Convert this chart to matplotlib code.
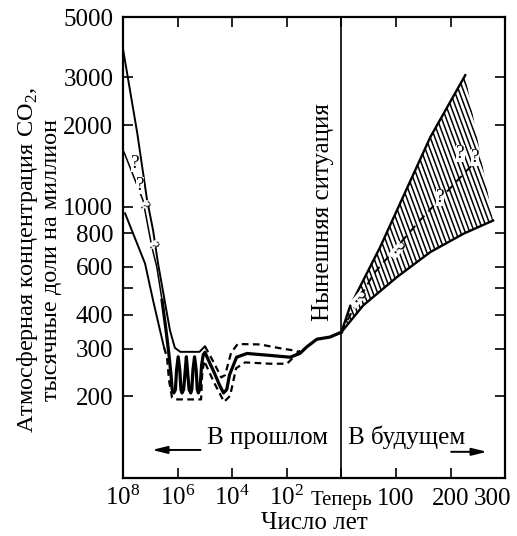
import matplotlib
matplotlib.use('Agg')
import matplotlib.pyplot as plt
from matplotlib import collections as mc
import numpy as np

plt.rcParams['font.family'] = ['Liberation Serif', 'DejaVu Serif']
plt.rcParams['mathtext.fontset'] = 'custom'
plt.rcParams['mathtext.rm'] = 'Liberation Serif'

# x position: 0..4 -> 10^8, 10^6, 10^4, 10^2 years ago, now; 4..7 -> 0..300 years ahead
x_ticks = [0, 1, 2, 3, 4, 5, 6, 7]
x_labels = [r'$\mathregular{10^8}$', r'$\mathregular{10^6}$', r'$\mathregular{10^4}$',
            r'$\mathregular{10^2}$', 'Теперь', '100', '200', '300']
y_ticks = [200, 300, 400, 500, 600, 800, 1000, 2000, 3000, 5000]
y_labels = ['200', '300', '400', '', '600', '800', '1000', '2000', '3000', '5000']

# past: upper bound (solid, then dashed)
up_x = [0, 0.26, 0.44, 0.55, 0.64, 0.86, 0.95, 1.05, 1.40, 1.50]
up_y = [3810, 1870, 1060, 820, 620, 350, 302, 292, 292, 306]
up_dash_x = [1.50, 1.67, 1.80, 1.87, 1.98, 2.10, 2.51, 2.88, 3.15, 3.24]
up_dash_y = [306, 265, 235, 240, 290, 312, 311, 301, 295, 291]

# past: lower bound (solid, then dashed)
lo_x = [0.037, 0.183, 0.403, 0.55, 0.678, 0.751]
lo_y = [946, 798, 618, 452, 350, 303]
lo_dash_x = [0.751, 0.806, 0.843, 0.898, 0.953, 1.43, 1.448, 1.484, 1.668, 1.851,
             1.961, 2.071, 2.236, 2.694, 3.005, 3.189, 3.28]
lo_dash_y = [303, 278, 229, 198, 195, 195, 239, 271, 225, 191,
             201, 254, 267, 264, 264, 288, 299]

# past: central estimate
mid_x = [0.018, 0.366, 0.53, 0.62, 0.715, 0.788, 0.843, 0.88, 0.90, 0.93, 0.96, 0.98,
         1.01, 1.04, 1.06, 1.08, 1.11, 1.14, 1.16, 1.18, 1.21, 1.24, 1.26, 1.28, 1.31,
         1.34, 1.36, 1.38, 1.41, 1.44, 1.47, 1.50, 1.58, 1.67, 1.76, 1.84, 1.90, 1.95,
         2.08, 2.27, 2.63, 3.06, 3.24, 3.37, 3.55, 3.79, 4.0]
mid_y = [1590, 1056, 708, 598, 452, 350, 283, 239, 212, 206, 212, 250,
         280, 250, 212, 206, 212, 250, 280, 250, 212, 206, 212, 250, 280,
         250, 212, 206, 214, 262, 285, 291, 268, 245, 222, 206, 212, 240,
         279, 288, 284, 279, 288, 305, 325, 331, 345]

# future: hatched band and central dashed line
fut_hi_x = [4.0, 4.16, 4.71, 5.63, 6.27]
fut_hi_y = [345, 430, 710, 1807, 3055]
fut_lo_x = [4.0, 4.40, 5.02, 5.63, 6.24, 6.78]
fut_lo_y = [345, 433, 551, 681, 796, 890]
fut_mid_x = [4.0, 4.22, 4.59, 5.44, 6.30, 6.49]
fut_mid_y = [345, 420, 566, 891, 1362, 1483]

fig = plt.figure(figsize=(5.17, 5.36), dpi=100)
ax = fig.add_axes([0.238, 0.108, 0.739, 0.860])
ax.set_yscale('log')
ax.set_xlim(0, 7)
ax.set_ylim(100, 5000)

# past curves
ax.plot(up_x, up_y, color='black', lw=1.4)
ax.plot(up_dash_x, up_dash_y, color='black', lw=1.6, ls=(0, (3, 2)))
ax.plot(lo_x, lo_y, color='black', lw=1.4)
ax.plot(lo_dash_x, lo_dash_y, color='black', lw=1.6, ls=(0, (3, 2)))
ax.plot(mid_x[:5], mid_y[:5], color='black', lw=1.1)
ax.plot(mid_x[4:], mid_y[4:], color='black', lw=2.3)
for qx, qy, rot, fs in [(0.22, 1446, 0, 14), (0.31, 1200, 0, 14),
                        (0.37, 1010, -60, 10), (0.53, 720, -60, 10)]:
    ax.text(qx, qy, '?', ha='center', va='center', fontsize=fs, rotation=rot,
            bbox=dict(facecolor='white', edgecolor='none', pad=0))

# future band
poly_x = fut_hi_x + fut_lo_x[::-1]
poly_y = fut_hi_y + fut_lo_y[::-1]
band = ax.fill(poly_x, poly_y, facecolor='none', edgecolor='none')[0]
starts = np.arange(-0.5, 1.0, 0.012)
segs = [[(s, 1), (s + 0.445, 0)] for s in starts]
hatch = mc.LineCollection(segs, colors='black', linewidths=1.1, transform=ax.transAxes)
hatch.set_clip_path(band)
ax.add_collection(hatch)
ax.plot(fut_hi_x, fut_hi_y, color='black', lw=1.7)
ax.plot(fut_lo_x, fut_lo_y, color='black', lw=1.7)
ax.plot(fut_mid_x, fut_mid_y, color='black', lw=1.4, ls=(0, (4, 3)))
for qx, qy, rot in [(4.3, 455, -40), (5.02, 690, -40), (5.81, 1086, 0),
                    (6.18, 1574, 0), (6.45, 1524, 0)]:
    ax.text(qx, qy, '?', ha='center', va='center', fontsize=14, rotation=rot,
            bbox=dict(facecolor='white', edgecolor='none', pad=0))

# present line and texts
ax.axvline(4, color='black', lw=1.2)
ax.text(3.67, 960, 'Нынешняя ситуация', rotation=90, ha='center', va='center', fontsize=18)
ax.text(2.64, 141, 'В прошлом', ha='center', va='center', fontsize=18)
ax.text(5.19, 141, 'В будущем', ha='center', va='center', fontsize=18)
ax.annotate('', xy=(0.48, 127), xytext=(1.47, 127),
            arrowprops=dict(arrowstyle='-|>,head_length=0.9,head_width=0.22',
                            color='black', lw=1.4))
ax.annotate('', xy=(6.72, 125), xytext=(5.96, 125),
            arrowprops=dict(arrowstyle='-|>,head_length=0.9,head_width=0.22',
                            color='black', lw=1.4))

# axes, ticks (last label drawn separately, nudged left so it stays inside the figure)
ax.set_xticks(x_ticks)
ax.set_xticklabels(x_labels[:-1] + [''], fontsize=18)
xlabs = ax.get_xticklabels()
for lab in xlabs:
    lab.set_va('baseline')
xlabs[4].set_fontsize(15)
ax.annotate(x_labels[-1], xy=(x_ticks[-1], 0), xycoords=ax.get_xaxis_transform(),
            xytext=(-9.4, -19), textcoords='offset points', ha='center', va='baseline',
            fontsize=18)
ax.set_yticks(y_ticks)
ax.set_yticklabels(y_labels, fontsize=18)
ax.minorticks_off()
ax.tick_params(direction='in', length=7, width=1.2, top=True, right=True)
ax.tick_params(axis='x', pad=19)
ax.tick_params(axis='y', pad=7)
for sp in ax.spines.values():
    sp.set_linewidth(1.6)

ax.set_xlabel('Число лет', fontsize=18, labelpad=2)
fig.text(0.075, 1 - 260 / 536, 'Атмосферная концентрация CO$_2$,\nтысячные доли на миллион',
         rotation=90, ha='center', va='center', multialignment='center', fontsize=17.5,
         linespacing=1.05)

fig.savefig('out.png', dpi=100)
